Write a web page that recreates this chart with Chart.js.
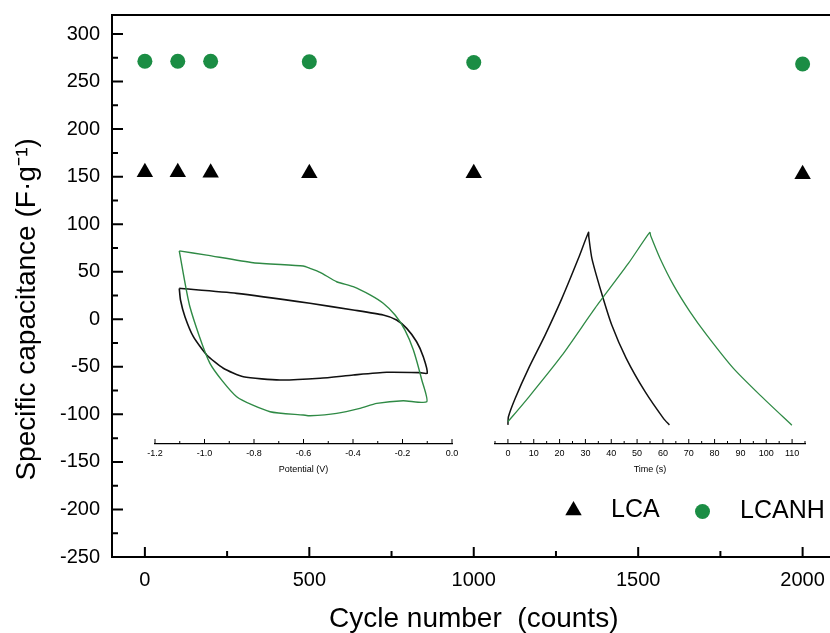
<!DOCTYPE html>
<html>
<head>
<meta charset="utf-8">
<script src="https://cdn.jsdelivr.net/npm/chart.js@4.4.1/dist/chart.umd.min.js"></script>
<style>
  html, body { margin: 0; padding: 0; background: #fff; }
  #wrap { position: relative; width: 830px; height: 633px; overflow: hidden; background: #fff; }
  #wrap canvas { position: absolute; }
</style>
</head>
<body>
<div id="wrap">
  <canvas id="main" width="845" height="633" style="left:0;top:0"></canvas>
  <canvas id="cv" width="320" height="256" style="left:145px;top:224px"></canvas>
  <canvas id="gcd" width="340" height="256" style="left:484px;top:224px"></canvas>
  <canvas id="leg1" width="200" height="200" style="left:529.5px;top:467px"></canvas>
  <canvas id="leg2" width="220" height="200" style="left:659px;top:468px"></canvas>
</div>
<script>
// ---------- main chart data ----------
const seriesNames = ['LCA', 'LCANH'];
const cycles   = [0, 100, 200, 500, 1000, 2000];
const lcaCap   = [154.5, 154.5, 154, 153.5, 153.5, 152.5];
const lcanhCap = [271.3, 271.3, 271.3, 270.8, 270, 268.5];
const xTicks = [0, 500, 1000, 1500, 2000];
const xMinorTicks = [250, 750, 1250, 1750];
const yTicks = [-250, -200, -150, -100, -50, 0, 50, 100, 150, 200, 250, 300];
const yMinorTicks = [-225, -175, -125, -75, -25, 25, 75, 125, 175, 225, 275];

// ---------- CV inset data (potential V, current in main-axis units) ----------
const cvLcaV = [-1.102, -0.870, -0.574, -0.399, -0.278, -0.224, -0.183, -0.143, -0.116, -0.100,
                -0.130, -0.264, -0.399, -0.533, -0.695, -0.843, -0.924, -0.991, -1.045, -1.079, -1.097, -1.102];
const cvLcaI = [32.6, 27.3, 16.8, 9.8, 4.5, -0.7, -9.5, -23.6, -39.3, -56.8,
                -56.1, -55.7, -58.6, -62, -63.8, -60.4, -51.5, -37.5, -18.3, 2.7, 20.3, 32.6];
const cvLcanhV = [-1.102, -0.991, -0.803, -0.601, -0.574, -0.533, -0.466, -0.399, -0.331, -0.278, -0.230, -0.190, -0.156, -0.122, -0.102,
                  -0.197, -0.304, -0.372, -0.466, -0.574, -0.601, -0.735, -0.870, -0.978, -1.059, -1.102];
const cvLcanhI = [72, 67.5, 59.5, 56, 53.6, 49.4, 39.5, 34.3, 25.6, 16.8, 4.5, -11.3, -32.3, -63.8, -86.7,
                  -85.6, -88.4, -93.6, -98.9, -101.4, -100.6, -97.2, -81.4, -46.3, 13.2, 72];
const cvTicks = [-1.2, -1.0, -0.8, -0.6, -0.4, -0.2, 0.0];
const cvMinorTicks = [-1.1, -0.9, -0.7, -0.5, -0.3, -0.1];

// ---------- GCD inset data (time s, potential in main-axis units) ----------
const gcdLcaT = [0, 0.2, 2.8, 8.0, 14.4, 20.9, 27.3, 31.2, 31.3, 32.5, 36.1, 40.2, 45.8, 53.1, 60.2, 62.5];
const gcdLcaU = [-111, -102.4, -83.2, -51.6, -16.6, 22, 64.1, 91.5, 86.9, 64.1, 29.0, -6.0, -41.0, -76.1, -104.1, -111.1];
const gcdLcanhT = [0, 8.0, 20.9, 33.8, 46.7, 54.9, 55.3, 58.9, 64.1, 70.5, 77.0, 87.3, 97.6, 109.9];
const gcdLcanhU = [-107.7, -82, -38, 12, 59, 91.4, 87.5, 64.0, 36.0, 7.9, -16.6, -51.6, -79.7, -111.3];
const gcdTicks = [0, 10, 20, 30, 40, 50, 60, 70, 80, 90, 100, 110];
const gcdMinorTicks = [-5, 5, 15, 25, 35, 45, 55, 65, 75, 85, 95, 105, 115];

const FONT = "'Liberation Sans', Arial, 'Noto Sans', sans-serif";
const GREEN = '#1b8d44';
const GREEN_LINE = '#2f8a45';
const BLACK = '#000000';

function zip(xs, ys) { return xs.map((x, i) => ({ x: x, y: ys[i] })); }

// inward tick marks drawn through the chart's own scales
function innerTicks(items) {
  return {
    id: 'innerTicks',
    afterDraw(chart) {
      const ctx = chart.ctx;
      items.forEach(it => {
        const s = chart.scales[it.scale];
        ctx.save();
        ctx.strokeStyle = '#000';
        ctx.lineWidth = it.width;
        ctx.beginPath();
        [[it.major, it.majorLen], [it.minor, it.minorLen]].forEach(([vals, len]) => {
          vals.forEach(v => {
            const p = s.getPixelForValue(v);
            if (s.isHorizontal()) { ctx.moveTo(p, s.top); ctx.lineTo(p, s.top - len); }
            else { ctx.moveTo(s.right, p); ctx.lineTo(s.right + len, p); }
          });
        });
        ctx.stroke();
        ctx.restore();
      });
    }
  };
}

Chart.defaults.font.family = FONT;
Chart.defaults.color = '#000';

// ---------- main chart ----------
new Chart(document.getElementById('main'), {
  type: 'scatter',
  data: {
    datasets: [
      { label: seriesNames[0], data: zip(cycles, lcaCap), pointStyle: 'triangle', pointRadius: 9.5,
        backgroundColor: BLACK, borderColor: BLACK, borderWidth: 0 },
      { label: seriesNames[1], data: zip(cycles, lcanhCap), pointStyle: 'circle', pointRadius: 7.5,
        backgroundColor: GREEN, borderColor: GREEN, borderWidth: 0 }
    ]
  },
  options: {
    responsive: false, animation: false,
    layout: { padding: { top: 15, right: 6, left: 0, bottom: 0 } },
    plugins: { legend: { display: false }, tooltip: { enabled: false } },
    scales: {
      x: {
        type: 'linear', position: 'bottom', min: -100, max: 2100,
        afterBuildTicks: s => { s.ticks = xTicks.map(v => ({ value: v })); },
        afterFit: s => { s.height = 76; s.paddingLeft = 0; s.paddingRight = 0; },
        ticks: { font: { size: 20 }, color: '#000', padding: 11, maxRotation: 0, autoSkip: false,
                 callback: v => String(v) },
        grid: { display: false, drawTicks: false },
        border: { display: true, color: '#000', width: 2 },
        title: { display: true, text: 'Cycle number  (counts)', color: '#000',
                 font: { size: 28, lineHeight: 1 }, padding: 0 }
      },
      xTop: {
        type: 'linear', position: 'top', min: -100, max: 2100,
        ticks: { display: false }, grid: { display: false, drawTicks: false },
        border: { display: true, color: '#000', width: 2 }
      },
      y: {
        type: 'linear', position: 'left', min: -250, max: 320,
        afterBuildTicks: s => { s.ticks = yTicks.map(v => ({ value: v })); },
        afterFit: s => { s.width = 112; s.paddingTop = 0; s.paddingBottom = 0; },
        ticks: { font: { size: 20 }, color: '#000', padding: 12, callback: v => String(v) },
        grid: { display: false, drawTicks: false },
        border: { display: true, color: '#000', width: 2 },
        title: { display: true, text: 'Specific capacitance (F\u00b7g\u207b\u00b9)      ', color: '#000',
                 font: { size: 28, lineHeight: 1.2 }, padding: { top: 10, bottom: 0 } }
      }
    }
  },
  plugins: [innerTicks([
    { scale: 'x', major: xTicks, minor: xMinorTicks, majorLen: 10, minorLen: 6, width: 2 },
    { scale: 'y', major: yTicks, minor: yMinorTicks, majorLen: 11, minorLen: 6, width: 2 }
  ])]
});

// ---------- inset factory ----------
function inset(id, sets, xmin, xmax, ticks, minor, title, fmt, padL, padR) {
  new Chart(document.getElementById(id), {
    type: 'scatter',
    data: { datasets: sets },
    options: {
      responsive: false, animation: false,
      layout: { padding: { left: padL, right: padR, top: 0, bottom: 0 } },
      plugins: { legend: { display: false }, tooltip: { enabled: false } },
      elements: { point: { radius: 0 } },
      scales: {
        x: {
          type: 'linear', min: xmin, max: xmax,
          afterBuildTicks: s => { s.ticks = ticks.map(v => ({ value: v })); },
          afterFit: s => { s.height = 36; s.paddingLeft = 0; s.paddingRight = 0; },
          ticks: { font: { size: 9 }, color: '#000', padding: 4, maxRotation: 0, autoSkip: false, callback: fmt },
          grid: { display: false, drawTicks: false },
          border: { display: true, color: '#000', width: 1.2 },
          title: { display: true, text: title, color: '#000', font: { size: 9, lineHeight: 1.2 }, padding: 5 }
        },
        y: { display: false, min: -131.1, max: 100.2 }
      }
    },
    plugins: [innerTicks([{ scale: 'x', major: ticks, minor: minor, majorLen: 5, minorLen: 3, width: 1 }])]
  });
}

const lineDs = (label, data, color, w) => ({
  label: label, data: data, showLine: true, borderColor: color, backgroundColor: color,
  borderWidth: w, pointRadius: 0, tension: 0.2, fill: false, clip: false
});

inset('cv', [
  lineDs(seriesNames[1], zip(cvLcanhV, cvLcanhI), GREEN_LINE, 1.4),
  lineDs(seriesNames[0], zip(cvLcaV, cvLcaI), '#111', 1.6)
], -1.2, 0, cvTicks, cvMinorTicks, 'Potential (V)', v => Number(v).toFixed(1), 10, 13);

inset('gcd', [
  lineDs(seriesNames[1], zip(gcdLcanhT, gcdLcanhU), GREEN_LINE, 1.3),
  lineDs(seriesNames[0], zip(gcdLcaT, gcdLcaU), '#111', 1.5)
], -5, 115, gcdTicks, gcdMinorTicks, 'Time (s)', v => String(v), 11, 19);

// ---------- legend (one entry per canvas so each symbol keeps its own size) ----------
function legendEntry(id, name, style, color, boxH) {
  new Chart(document.getElementById(id), {
    type: 'scatter',
    data: { datasets: [{ label: name, data: [], pointStyle: style, backgroundColor: color, borderColor: color, borderWidth: 0 }] },
    options: {
      responsive: false, animation: false,
      scales: { x: { display: false }, y: { display: false } },
      plugins: {
        tooltip: { enabled: false },
        legend: {
          display: true, position: 'top', align: 'start',
          labels: {
            usePointStyle: true, boxHeight: boxH, padding: 31, color: '#000',
            font: { size: 25 },
            generateLabels: chart => Chart.defaults.plugins.legend.labels.generateLabels(chart)
              .map(l => Object.assign({}, l, { text: '\u2002' + l.text }))
          }
        }
      }
    }
  });
}
legendEntry('leg1', seriesNames[0], 'triangle', BLACK, 13.4);
legendEntry('leg2', seriesNames[1], 'circle', GREEN, 10.6);
</script>
</body>
</html>
